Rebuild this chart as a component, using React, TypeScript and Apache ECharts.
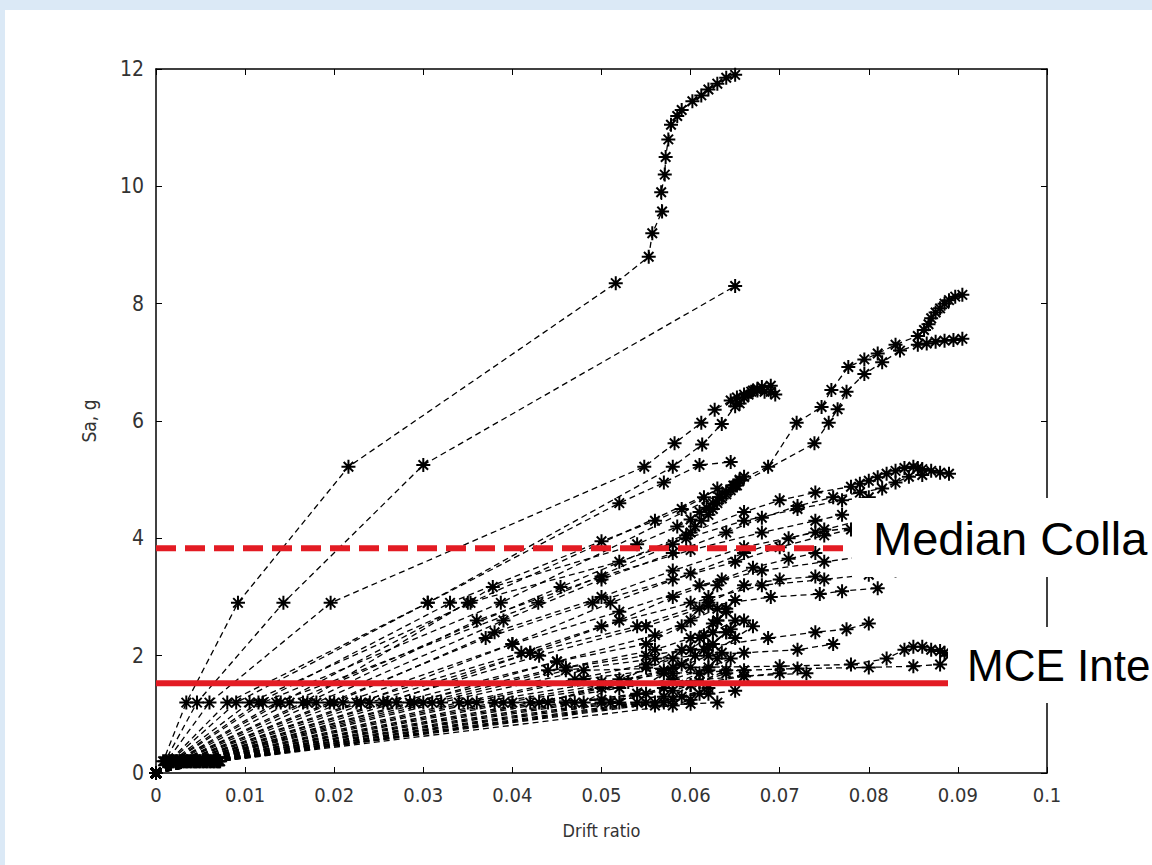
import React, { useEffect, useRef } from "react";
import * as echarts from "echarts";

const xMin = 0;
const xMax = 0.1;
const xInterval = 0.01;
const yMin = 0;
const yMax = 12;
const yInterval = 2;
const xAxisName = "Drift ratio";
const yAxisName = "Sa, g";
const medianCollapseSa = 3.83;
const mceSa = 1.53;
const medianLine = [[0, medianCollapseSa], [0.079, medianCollapseSa]];
const mceLine = [[0, mceSa], [0.09, mceSa]];
const medianLabel = "Median Colla";
const mceLabel = "MCE Inte";

const curveC1 = [[0, 0], [0.0008, 0.2], [0.0034, 1.2], [0.0092, 2.9], [0.0216, 5.22], [0.0516, 8.35], [0.0553, 8.8], [0.0557, 9.2], [0.0568, 9.57], [0.0567, 9.9], [0.0571, 10.2], [0.0572, 10.5], [0.0575, 10.8], [0.0578, 11.05], [0.0585, 11.2], [0.059, 11.3], [0.0602, 11.45], [0.0612, 11.55], [0.062, 11.65], [0.063, 11.75], [0.064, 11.85], [0.065, 11.9]];
const curveC2 = [[0, 0], [0.001, 0.2], [0.0046, 1.2], [0.0143, 2.9], [0.030, 5.25], [0.065, 8.3]];
const curveC3 = [[0, 0], [0.0012, 0.2], [0.006, 1.2], [0.0196, 2.9], [0.0548, 5.22], [0.0582, 5.62], [0.0612, 5.97], [0.0627, 6.19], [0.0645, 6.35], [0.0652, 6.4], [0.066, 6.45], [0.0668, 6.5], [0.0675, 6.52], [0.0683, 6.5], [0.069, 6.5], [0.0695, 6.45]];
const curveR1 = [[0, 0], [0.0015, 0.2], [0.008, 1.2], [0.0305, 2.9], [0.058, 5.22], [0.0613, 5.6], [0.0635, 5.95], [0.065, 6.25], [0.0655, 6.3], [0.066, 6.4], [0.0665, 6.45], [0.067, 6.52], [0.0675, 6.55], [0.068, 6.58], [0.069, 6.6]];
const curveR2 = [[0, 0], [0.0018, 0.2], [0.0105, 1.2], [0.0353, 2.9], [0.0687, 5.22], [0.0719, 5.97], [0.0747, 6.24], [0.0758, 6.53], [0.0777, 6.92], [0.0795, 7.05], [0.081, 7.15], [0.083, 7.3], [0.0855, 7.45], [0.0862, 7.55], [0.0867, 7.65], [0.087, 7.75], [0.0875, 7.85], [0.088, 7.92], [0.0885, 8.0], [0.089, 8.06], [0.0897, 8.12], [0.0905, 8.15]];
const curveR3 = [[0, 0], [0.002, 0.2], [0.012, 1.2], [0.0387, 2.9], [0.0652, 4.9], [0.0739, 5.62], [0.0755, 5.97], [0.0765, 6.2], [0.0775, 6.5], [0.0795, 6.8], [0.0815, 7.0], [0.0835, 7.2], [0.0855, 7.3], [0.0865, 7.32], [0.0875, 7.35], [0.0885, 7.37], [0.0895, 7.38], [0.0905, 7.4]];
const curveM1 = [[0, 0], [0.0022, 0.2], [0.0135, 1.2], [0.0429, 2.9], [0.058, 3.9], [0.0595, 4.05], [0.0605, 4.2], [0.0612, 4.3], [0.062, 4.4], [0.0625, 4.5], [0.063, 4.6], [0.0635, 4.68], [0.064, 4.75], [0.0645, 4.82], [0.065, 4.9], [0.0655, 4.98], [0.066, 5.05]];
const curveR4 = [[0, 0], [0.0024, 0.2], [0.015, 1.2], [0.0454, 3.17], [0.06, 4.1], [0.066, 4.45], [0.07, 4.65], [0.074, 4.78], [0.078, 4.88], [0.079, 4.93], [0.080, 4.98], [0.081, 5.04], [0.082, 5.1], [0.083, 5.15], [0.084, 5.2], [0.085, 5.22], [0.0855, 5.2], [0.086, 5.18], [0.087, 5.15], [0.088, 5.12], [0.089, 5.1]];
const curveR5 = [[0, 0], [0.0026, 0.2], [0.0165, 1.2], [0.0378, 3.17], [0.054, 3.9], [0.0585, 4.2], [0.06, 4.32], [0.061, 4.45], [0.0618, 4.52], [0.0625, 4.6], [0.0632, 4.7], [0.064, 4.8], [0.0648, 4.9], [0.0655, 5.0]];
const curveR6 = [[0, 0], [0.0028, 0.2], [0.018, 1.2], [0.039, 2.6], [0.05, 3.3], [0.058, 3.75], [0.064, 4.1], [0.068, 4.35], [0.072, 4.55], [0.076, 4.7], [0.079, 4.78], [0.0815, 4.85], [0.083, 4.95], [0.0845, 5.05], [0.086, 5.08]];
const curveM2 = [[0, 0], [0.003, 0.2], [0.0195, 1.2], [0.037, 2.3], [0.049, 2.9], [0.058, 3.3], [0.065, 3.6], [0.07, 3.85], [0.075, 4.05], [0.078, 4.15]];
const curveR7 = [[0, 0], [0.0032, 0.2], [0.021, 1.2], [0.04, 2.2], [0.051, 2.9], [0.06, 3.4], [0.066, 3.75], [0.071, 4.0], [0.075, 4.15], [0.079, 4.3], [0.082, 4.4]];
const curveR8 = [[0, 0], [0.0034, 0.2], [0.0225, 1.2], [0.041, 2.05], [0.05, 2.5], [0.06, 2.9], [0.068, 3.2], [0.075, 3.3], [0.08, 3.38], [0.083, 3.45]];
const curveM3 = [[0, 0], [0.0036, 0.2], [0.024, 1.2], [0.042, 2.05], [0.052, 2.6], [0.058, 3.0], [0.0635, 3.3], [0.067, 3.5], [0.071, 3.65], [0.074, 3.75]];
const curveR9 = [[0, 0], [0.0038, 0.2], [0.0255, 1.2], [0.043, 2.0], [0.055, 2.5], [0.062, 2.85], [0.069, 3.0], [0.0745, 3.05], [0.077, 3.1], [0.081, 3.15]];
const curveM4 = [[0, 0], [0.004, 0.2], [0.027, 1.2], [0.045, 1.9], [0.055, 2.2], [0.059, 2.5], [0.061, 2.8], [0.062, 3.0], [0.063, 3.2]];
const curveR10 = [[0, 0], [0.0042, 0.2], [0.0285, 1.2], [0.044, 1.75], [0.055, 2.0], [0.062, 2.15], [0.0687, 2.3], [0.074, 2.4], [0.0775, 2.45], [0.08, 2.55]];
const curveM5 = [[0, 0], [0.0044, 0.2], [0.030, 1.2], [0.046, 1.8], [0.056, 2.1], [0.06, 2.3], [0.0625, 2.55], [0.064, 2.75]];
const curveR11 = [[0, 0], [0.0046, 0.2], [0.032, 1.2], [0.048, 1.75], [0.06, 1.8], [0.07, 1.82], [0.078, 1.85], [0.082, 1.95], [0.084, 2.1], [0.085, 2.15], [0.086, 2.15], [0.087, 2.1], [0.088, 2.08], [0.0885, 2.05], [0.089, 2.0], [0.09, 1.95]];
const curveM6 = [[0, 0], [0.0048, 0.2], [0.034, 1.2], [0.047, 1.6], [0.055, 1.85], [0.059, 2.1], [0.0615, 2.35], [0.063, 2.6]];
const curveR12 = [[0, 0], [0.005, 0.2], [0.036, 1.2], [0.05, 1.55], [0.058, 1.7], [0.066, 1.75], [0.072, 1.78], [0.08, 1.8], [0.085, 1.82], [0.088, 1.85]];
const curveM7 = [[0, 0], [0.0052, 0.2], [0.038, 1.2], [0.05, 1.5], [0.057, 1.75], [0.0605, 2.0], [0.0625, 2.2], [0.064, 2.4]];
const curveR13 = [[0, 0], [0.0054, 0.2], [0.040, 1.2], [0.05, 1.25], [0.057, 1.3], [0.062, 1.35], [0.065, 1.4]];
const curveM8 = [[0, 0], [0.0056, 0.2], [0.042, 1.2], [0.052, 1.45], [0.058, 1.6], [0.062, 1.8], [0.0645, 1.95]];
const curveR14 = [[0, 0], [0.0058, 0.2], [0.044, 1.2], [0.052, 1.6], [0.058, 1.95], [0.061, 2.3], [0.063, 2.6], [0.064, 2.8]];
const curveM9 = [[0, 0], [0.006, 0.2], [0.046, 1.2], [0.054, 1.35], [0.06, 1.5], [0.066, 1.65], [0.07, 1.7]];
const curveR15 = [[0, 0], [0.0062, 0.2], [0.048, 1.2], [0.055, 1.8], [0.06, 2.1], [0.0625, 2.4], [0.065, 2.6]];
const curveM10 = [[0, 0], [0.0064, 0.2], [0.050, 1.2], [0.056, 1.15], [0.06, 1.18], [0.063, 1.2]];
const curveR16 = [[0, 0], [0.0066, 0.2], [0.052, 1.2], [0.057, 1.7], [0.062, 2.0], [0.065, 2.3], [0.067, 2.5]];
const curveM11 = [[0, 0], [0.0068, 0.2], [0.054, 1.2], [0.058, 1.4], [0.061, 1.55], [0.064, 1.7]];
const curveM12 = [[0, 0], [0.007, 0.2], [0.056, 1.2], [0.059, 1.3], [0.062, 1.45]];
const curveM13 = [[0, 0], [0.0072, 0.2], [0.058, 1.15], [0.06, 1.25]];
const curveN1 = [[0, 0], [0.0016, 0.2], [0.009, 1.2], [0.0305, 2.9], [0.052, 4.6], [0.057, 4.95], [0.061, 5.25], [0.0645, 5.3]];
const curveN2 = [[0, 0], [0.0019, 0.2], [0.0115, 1.2], [0.033, 2.9], [0.05, 3.95], [0.056, 4.3], [0.059, 4.5], [0.0615, 4.7], [0.063, 4.85]];
const curveN3 = [[0, 0], [0.0023, 0.2], [0.014, 1.2], [0.035, 2.9], [0.052, 3.6], [0.0595, 4.0], [0.066, 4.3], [0.072, 4.5], [0.077, 4.65], [0.08, 4.7]];
const curveN4 = [[0, 0], [0.0027, 0.2], [0.017, 1.2], [0.036, 2.6], [0.05, 3.35], [0.06, 3.8], [0.068, 4.1], [0.074, 4.3], [0.077, 4.4]];
const curveN5 = [[0, 0], [0.0031, 0.2], [0.02, 1.2], [0.038, 2.4], [0.05, 3.0], [0.058, 3.45], [0.066, 3.85], [0.074, 4.1], [0.079, 4.2], [0.083, 4.25]];
const curveN6 = [[0, 0], [0.0035, 0.2], [0.023, 1.2], [0.04, 2.2], [0.052, 2.75], [0.061, 3.2], [0.068, 3.45], [0.075, 3.6], [0.08, 3.7], [0.084, 3.75]];
const curveN7 = [[0, 0], [0.0039, 0.2], [0.026, 1.2], [0.042, 2.05], [0.054, 2.5], [0.062, 2.9], [0.066, 3.2], [0.07, 3.3], [0.074, 3.35]];
const curveN8 = [[0, 0], [0.0043, 0.2], [0.029, 1.2], [0.045, 1.9], [0.056, 2.35], [0.06, 2.6], [0.063, 2.8], [0.065, 2.95]];
const curveN9 = [[0, 0], [0.0045, 0.2], [0.031, 1.2], [0.046, 1.75], [0.056, 1.95], [0.066, 2.05], [0.072, 2.1], [0.076, 2.2]];
const curveN10 = [[0, 0], [0.0049, 0.2], [0.035, 1.2], [0.048, 1.6], [0.058, 1.8], [0.0615, 2.1], [0.064, 2.4], [0.066, 2.6]];
const curveN11 = [[0, 0], [0.0053, 0.2], [0.039, 1.2], [0.05, 1.45], [0.058, 1.55], [0.066, 1.65], [0.073, 1.7]];
const curveN12 = [[0, 0], [0.0057, 0.2], [0.043, 1.2], [0.053, 1.55], [0.059, 1.85], [0.062, 2.15], [0.0645, 2.45]];
const curveN13 = [[0, 0], [0.0061, 0.2], [0.047, 1.2], [0.055, 1.35], [0.061, 1.55], [0.064, 1.75]];
const curveN14 = [[0, 0], [0.0065, 0.2], [0.051, 1.2], [0.057, 1.45], [0.061, 1.7], [0.063, 1.95]];
const curveN15 = [[0, 0], [0.0069, 0.2], [0.055, 1.2], [0.058, 1.25], [0.061, 1.35]];
const curveN16 = [[0, 0], [0.0071, 0.2], [0.057, 1.2], [0.06, 1.5], [0.062, 1.75], [0.0635, 2.05]];

const curves = [
  curveC1, curveC2, curveC3, curveR1, curveR2, curveR3, curveM1, curveR4, curveR5, curveR6,
  curveM2, curveR7, curveR8, curveM3, curveR9, curveM4, curveR10, curveM5, curveR11, curveM6,
  curveR12, curveM7, curveR13, curveM8, curveR14, curveM9, curveR15, curveM10, curveR16, curveM11,
  curveM12, curveM13, curveN1, curveN2, curveN3, curveN4, curveN5, curveN6, curveN7, curveN8,
  curveN9, curveN10, curveN11, curveN12, curveN13, curveN14, curveN15, curveN16,
];

const STAR = "path://M5 0L5 10M0 5L10 5M1.6 1.6L8.4 8.4M1.6 8.4L8.4 1.6";
const LABEL_FONT = "'Liberation Sans Narrow', 'DejaVu Sans Condensed', 'Liberation Sans', Arial, sans-serif";
const BOX_FONT = "'Liberation Sans', Arial, sans-serif";
const RED = "#e31b23";

export default function App() {
  const ref = useRef<HTMLDivElement>(null);
  useEffect(() => {
    if (!ref.current) return;
    const chart = echarts.init(ref.current, undefined, { renderer: "svg" });
    const axisLine = { show: true, onZero: false, lineStyle: { color: "#000", width: 1.5 } };
    const axisTick = { show: true, inside: true, length: 6, lineStyle: { color: "#000", width: 1 } };
    const curveSeries = curves.map((c, i) => ({
      type: "line",
      name: "c" + i,
      data: c,
      symbol: STAR,
      symbolSize: 14,
      showSymbol: true,
      lineStyle: { color: "#000", width: 1.3, type: [6, 4] },
      itemStyle: { color: "rgba(0,0,0,0)", borderColor: "#000", borderWidth: 2 },
      emphasis: { disabled: true },
      silent: true,
      z: 2,
    }));
    chart.setOption({
      animation: false,
      backgroundColor: "#fff",
      grid: { left: 156, right: 105, top: 69, bottom: 92, containLabel: false },
      xAxis: [
        {
          type: "value", min: xMin, max: xMax, interval: xInterval, position: "bottom",
          name: xAxisName, nameLocation: "middle", nameGap: 48,
          nameTextStyle: { color: "#333", fontSize: 18, fontFamily: LABEL_FONT },
          axisLine, axisTick,
          axisLabel: { color: "#333", fontSize: 20, margin: 12, fontFamily: LABEL_FONT },
          splitLine: { show: false },
        },
        {
          type: "value", min: xMin, max: xMax, interval: xInterval, position: "top",
          axisLine, axisTick, axisLabel: { show: false }, splitLine: { show: false },
        },
      ],
      yAxis: [
        {
          type: "value", min: yMin, max: yMax, interval: yInterval, position: "left",
          name: yAxisName, nameLocation: "middle", nameGap: 58, nameRotate: 90,
          nameTextStyle: { color: "#333", fontSize: 19, fontFamily: LABEL_FONT },
          axisLine, axisTick,
          axisLabel: { color: "#333", fontSize: 21, margin: 12, fontFamily: LABEL_FONT },
          splitLine: { show: false },
        },
        {
          type: "value", min: yMin, max: yMax, interval: yInterval, position: "right",
          axisLine, axisTick, axisLabel: { show: false }, splitLine: { show: false },
        },
      ],
      series: [
        ...curveSeries,
        {
          type: "line", data: medianLine, symbol: "none", silent: true,
          lineStyle: { color: RED, width: 6, type: [20, 9] }, z: 5,
        },
        {
          type: "line", data: mceLine, symbol: "none", silent: true,
          lineStyle: { color: RED, width: 6 }, z: 5,
        },
      ],
      graphic: [
        { type: "rect", x: 0, y: 0, shape: { width: 1152, height: 10 }, style: { fill: "#dbe9f6" }, z: 0 },
        { type: "rect", x: 0, y: 0, shape: { width: 5, height: 865 }, style: { fill: "#dbe9f6" }, z: 0 },
        { type: "rect", x: 852, y: 498, shape: { width: 300, height: 79 }, style: { fill: "#fff" }, z: 100 },
        {
          type: "text", x: 873, y: 538, z: 101,
          style: { text: medianLabel, fill: "#000", fontSize: 47, fontFamily: BOX_FONT, verticalAlign: "middle" },
        },
        { type: "rect", x: 948, y: 627, shape: { width: 204, height: 76 }, style: { fill: "#fff" }, z: 100 },
        {
          type: "text", x: 967, y: 665, z: 101,
          style: { text: mceLabel, fill: "#000", fontSize: 44, fontFamily: BOX_FONT, verticalAlign: "middle" },
        },
      ],
    });
    return () => chart.dispose();
  }, []);
  return <div ref={ref} style={{ position: "absolute", left: 0, top: 0, width: 1152, height: 865 }} />;
}
